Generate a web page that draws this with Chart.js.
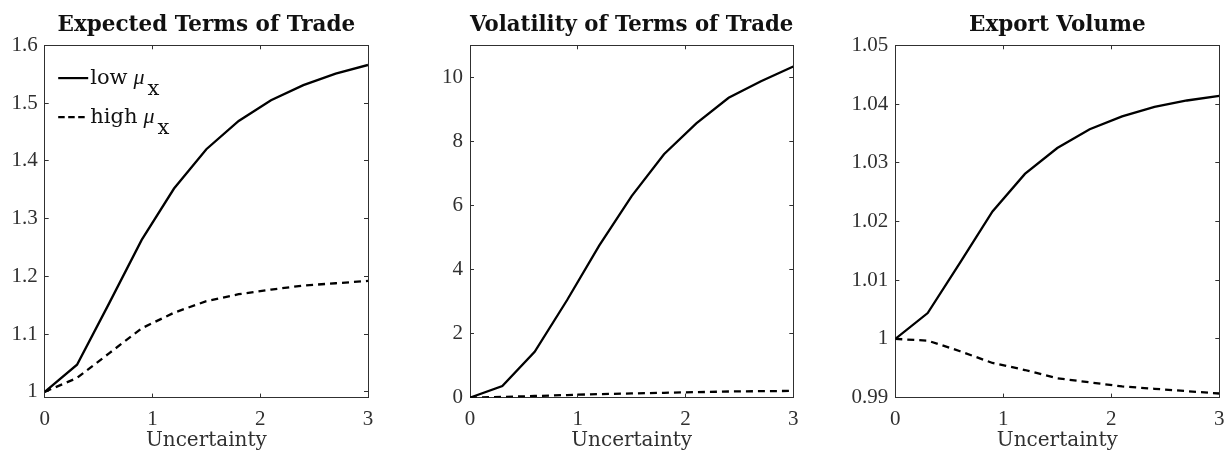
<!DOCTYPE html>
<html>
<head>
<meta charset="utf-8">
<script src="https://cdn.jsdelivr.net/npm/chart.js@4.4.0/dist/chart.umd.min.js"></script>
<style>
  html, body { margin: 0; padding: 0; background: #fff; }
  #wrap { position: relative; width: 1226px; height: 454px; overflow: hidden; }
  canvas { position: absolute; top: 0; }
</style>
</head>
<body>
<div id="wrap">
  <canvas id="totChart" width="380" height="454" style="left:0px"></canvas>
  <canvas id="volChart" width="405" height="454" style="left:400px"></canvas>
  <canvas id="expChart" width="396" height="454" style="left:830px"></canvas>
</div>
<script>
// --- data ---
const uncertainty = [0, 0.3, 0.6, 0.9, 1.2, 1.5, 1.8, 2.1, 2.4, 2.7, 3];
const seriesNames = ['low', 'high'];

// expected terms of trade
const totLow  = [1.0, 1.047, 1.154, 1.263, 1.352, 1.42, 1.469, 1.505, 1.531, 1.551, 1.566];
const totHigh = [1.0, 1.024, 1.067, 1.11, 1.137, 1.157, 1.169, 1.177, 1.184, 1.188, 1.192];

// volatility of terms of trade
const volLow  = [0, 0.36, 1.43, 3.04, 4.75, 6.29, 7.6, 8.56, 9.36, 9.88, 10.34];
const volHigh = [0, 0.02, 0.05, 0.08, 0.11, 0.13, 0.15, 0.17, 0.19, 0.2, 0.21];

// export volume
const expLow  = [1.0, 1.0044, 1.013, 1.0217, 1.0281, 1.0325, 1.0357, 1.0379, 1.0395, 1.0406, 1.0414];
const expHigh = [1.0, 0.9997, 0.9979, 0.9959, 0.9947, 0.9933, 0.9926, 0.9919, 0.9915, 0.9911, 0.9907];

// tick values and labels
const xTicks  = [0, 1, 2, 3];
const xLabels = ['0', '1', '2', '3'];
const totTicks  = [1, 1.1, 1.2, 1.3, 1.4, 1.5, 1.6];
const totLabels = ['1', '1.1', '1.2', '1.3', '1.4', '1.5', '1.6'];
const volTicks  = [0, 2, 4, 6, 8, 10];
const volLabels = ['0', '2', '4', '6', '8', '10'];
const expTicks  = [0.99, 1, 1.01, 1.02, 1.03, 1.04, 1.05];
const expLabels = ['0.99', '1', '1.01', '1.02', '1.03', '1.04', '1.05'];

const axisColor = '#303030';
const serif = 'Liberation Serif';
const tickFont = { family: serif, size: 21 };

// legend with the mu_x subscript, drawn inside the first panel
const muLegend = {
    id: 'muLegend',
    afterDraw: function(chart) {
        const ctx = chart.ctx;
        const area = chart.chartArea;
        ctx.save();
        seriesNames.forEach(function(name, i) {
            const ds = chart.data.datasets[i];
            const y = area.top + 32.8 + i * 39;
            ctx.strokeStyle = ds.borderColor;
            ctx.lineWidth = 2.2;
            ctx.setLineDash(i === 0 ? [] : [6.5, 3.5]);
            ctx.beginPath();
            ctx.moveTo(area.left + 13.5, y);
            ctx.lineTo(area.left + 43.5, y);
            ctx.stroke();
            ctx.setLineDash([]);
            ctx.fillStyle = '#111';
            ctx.textBaseline = 'alphabetic';
            ctx.font = '21px "DejaVu Serif"';
            const tx = area.left + 45.5;
            const base = y + 5.5;
            ctx.fillText(name, tx, base);
            const mx = tx + ctx.measureText(name).width + 6;
            ctx.font = 'italic 22px "' + serif + '"';
            ctx.fillText('\u03bc', mx, base);
            const sx = mx + ctx.measureText('\u03bc').width + 3;
            ctx.font = '21px "DejaVu Serif"';
            ctx.fillText('x', sx, base + 11);
        });
        ctx.restore();
    }
};

function makePanel(id, title, low, high, yMin, yMax, yTicks, yLabels, box, plugins) {
    const ctx = document.getElementById(id).getContext('2d');
    const canvasH = 454;
    return new Chart(ctx, {
        type: 'line',
        data: {
            datasets: [{
                label: seriesNames[0],
                data: uncertainty.map(function(u, i) { return { x: u, y: low[i] }; }),
                borderColor: '#000',
                borderWidth: 2.3,
                pointRadius: 0,
                tension: 0,
                fill: false
            }, {
                label: seriesNames[1],
                data: uncertainty.map(function(u, i) { return { x: u, y: high[i] }; }),
                borderColor: '#000',
                borderWidth: 2.3,
                borderDash: [7, 5],
                pointRadius: 0,
                tension: 0,
                fill: false
            }]
        },
        plugins: plugins || [],
        options: {
            responsive: false,
            animation: false,
            layout: { padding: { top: 0, left: 0, bottom: 0, right: box.rightPad } },
            plugins: {
                legend: { display: false },
                tooltip: { enabled: false },
                title: {
                    display: true,
                    text: title,
                    fullSize: false,
                    color: '#111',
                    font: { family: 'DejaVu Serif', weight: 'bold', size: 21.5, lineHeight: 1.2 },
                    padding: { top: 12.3, bottom: 7.2 }
                }
            },
            scales: {
                x: {
                    type: 'linear', position: 'bottom', min: 0, max: 3,
                    afterBuildTicks: function(s) { s.ticks = xTicks.map(function(v) { return { value: v }; }); },
                    afterFit: function(s) { s.height = canvasH - box.bottom; s.paddingLeft = 0; s.paddingRight = 0; },
                    ticks: {
                        autoSkip: false, maxRotation: 0, padding: 13, color: axisColor, font: tickFont,
                        callback: function(v) { return xLabels[xTicks.indexOf(v)]; }
                    },
                    grid: { drawOnChartArea: false, tickLength: -4, color: axisColor, lineWidth: 1 },
                    border: { color: axisColor, width: 1 },
                    title: {
                        display: true, text: 'Uncertainty', color: axisColor,
                        padding: { top: 0, bottom: 3 },
                        font: { family: 'DejaVu Serif', size: 20, lineHeight: 1 }
                    }
                },
                x2: {
                    type: 'linear', position: 'top', min: 0, max: 3,
                    afterBuildTicks: function(s) { s.ticks = xTicks.map(function(v) { return { value: v }; }); },
                    afterFit: function(s) { s.height = 0; s.paddingLeft = 0; s.paddingRight = 0; },
                    ticks: { callback: function() { return ''; } },
                    grid: { drawOnChartArea: false, tickLength: -4, color: axisColor, lineWidth: 1 },
                    border: { color: axisColor, width: 1 }
                },
                y: {
                    type: 'linear', position: 'left', min: yMin, max: yMax,
                    afterBuildTicks: function(s) { s.ticks = yTicks.map(function(v) { return { value: v }; }); },
                    afterFit: function(s) { s.width = box.left; s.paddingTop = 0; s.paddingBottom = 0; },
                    ticks: {
                        autoSkip: false, padding: 11, color: axisColor, font: tickFont,
                        callback: function(v) { return yLabels[yTicks.indexOf(v)]; }
                    },
                    grid: { drawOnChartArea: false, tickLength: -4, color: axisColor, lineWidth: 1 },
                    border: { color: axisColor, width: 1 }
                },
                y2: {
                    type: 'linear', position: 'right', min: yMin, max: yMax,
                    afterBuildTicks: function(s) { s.ticks = yTicks.map(function(v) { return { value: v }; }); },
                    afterFit: function(s) { s.width = 0; s.paddingTop = 0; s.paddingBottom = 0; },
                    ticks: { callback: function() { return ''; } },
                    grid: { drawOnChartArea: false, tickLength: -4, color: axisColor, lineWidth: 1 },
                    border: { color: axisColor, width: 1 }
                }
            }
        }
    });
}

makePanel('totChart', 'Expected Terms of Trade', totLow, totHigh, 0.99, 1.6, totTicks, totLabels,
          { left: 44.7, bottom: 397.6, rightPad: 12 }, [muLegend]);
makePanel('volChart', 'Volatility of Terms of Trade', volLow, volHigh, 0, 11, volTicks, volLabels,
          { left: 70, bottom: 397.6, rightPad: 11.7 });
makePanel('expChart', 'Export Volume', expLow, expHigh, 0.99, 1.05, expTicks, expLabels,
          { left: 65.3, bottom: 397.6, rightPad: 6.7 });
</script>
</body>
</html>
